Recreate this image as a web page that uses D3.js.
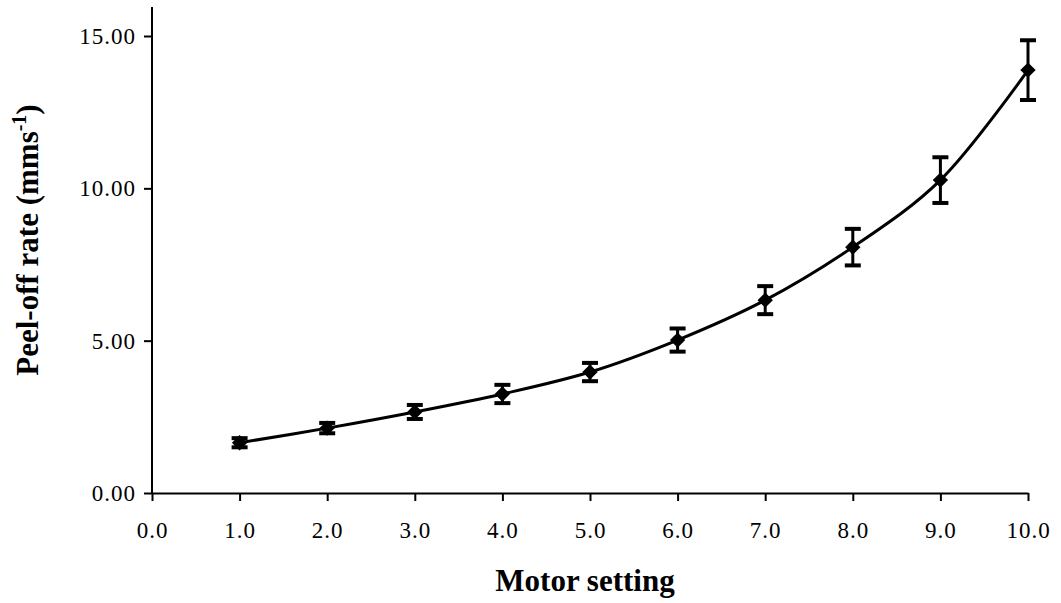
<!DOCTYPE html>
<html>
<head>
<meta charset="utf-8">
<script src="https://cdn.jsdelivr.net/npm/d3@7"></script>
<style>
  body { margin: 0; background: #fff; }
  svg { display: block; }
  text { font-family: "Liberation Serif", "Times New Roman", serif; fill: #000; }
</style>
</head>
<body>
<svg id="chart" width="1061" height="603"></svg>
<script>
// Motor setting vs peel-off rate, mean with error bars
const settings = [1, 2, 3, 4, 5, 6, 7, 8, 9, 10];
const rates = [1.65, 2.13, 2.66, 3.25, 3.97, 5.02, 6.33, 8.07, 10.27, 13.88];
const errors = [0.15, 0.17, 0.23, 0.3, 0.3, 0.38, 0.46, 0.6, 0.75, 0.98];
const xTicks = [0, 1, 2, 3, 4, 5, 6, 7, 8, 9, 10];
const yTicks = [0, 5, 10, 15];

const svg = d3.select('#chart');

const x = d3.scaleLinear().domain([0, 10]).range([152, 1028]);
const y = d3.scaleLinear().domain([0, 15]).range([493, 36]);

const data = settings.map((s, i) => ({ s, r: rates[i], e: errors[i] }));

// Axes
const xAxis = svg.append('g')
    .attr('transform', `translate(0,${y(0)})`)
    .call(d3.axisBottom(x).tickValues(xTicks).tickFormat(d3.format('.1f'))
        .tickSize(8).tickSizeOuter(0).tickPadding(21));

const yAxis = svg.append('g')
    .attr('transform', `translate(${x(0)},0)`)
    .call(d3.axisLeft(y).tickValues(yTicks).tickFormat(d3.format('.2f'))
        .tickSize(8).tickSizeOuter(0).tickPadding(8));

[xAxis, yAxis].forEach(g => {
    g.selectAll('path, line').attr('stroke', '#000').attr('stroke-width', 2);
    g.selectAll('text')
        .style('font-size', '23px')
        .style('letter-spacing', '1px')
        .attr('fill', '#000');
});

// extend y axis line above the top tick
yAxis.select('.domain').attr('d', `M0,${y(0)}V7`);

// Smoothed line through the means
const line = d3.line()
    .x(d => x(d.s))
    .y(d => y(d.r))
    .curve(d3.curveCatmullRom.alpha(0.5));

svg.append('path')
    .datum(data)
    .attr('d', line)
    .attr('fill', 'none')
    .attr('stroke', '#000')
    .attr('stroke-width', 3);

// Error bars
const bars = svg.append('g')
    .selectAll('g')
    .data(data)
    .enter().append('g');

bars.append('line')
    .attr('x1', d => x(d.s)).attr('x2', d => x(d.s))
    .attr('y1', d => y(d.r + d.e)).attr('y2', d => y(d.r - d.e))
    .attr('stroke', '#000').attr('stroke-width', 3);

[1, -1].forEach(sign => {
    bars.append('line')
        .attr('x1', d => x(d.s) - 8).attr('x2', d => x(d.s) + 8)
        .attr('y1', d => y(d.r + sign * d.e)).attr('y2', d => y(d.r + sign * d.e))
        .attr('stroke', '#000').attr('stroke-width', 4);
});

// Diamond markers
svg.append('g')
    .selectAll('path')
    .data(data)
    .enter().append('path')
    .attr('d', d3.symbol().type(d3.symbolDiamond2).size(150))
    .attr('transform', d => `translate(${x(d.s)},${y(d.r)})`)
    .attr('fill', '#000');

// Axis titles
svg.append('text')
    .attr('x', 585)
    .attr('y', 591)
    .attr('text-anchor', 'middle')
    .style('font-size', '31px')
    .style('font-weight', 'bold')
    .text('Motor setting');

const yTitle = svg.append('text')
    .attr('transform', 'translate(38,240) rotate(-90)')
    .attr('text-anchor', 'middle')
    .style('font-size', '31px')
    .style('font-weight', 'bold');
yTitle.append('tspan').text('Peel-off rate (mms');
yTitle.append('tspan').attr('dy', -12).style('font-size', '20px').text('-1');
yTitle.append('tspan').attr('dy', 12).text(')');
</script>
</body>
</html>
